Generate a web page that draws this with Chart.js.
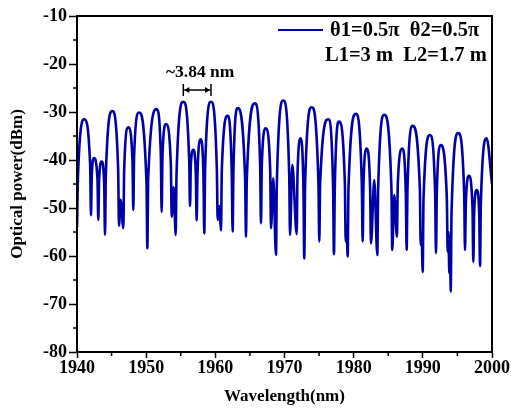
<!DOCTYPE html>
<html>
<head>
<meta charset="utf-8">
<script src="https://cdn.jsdelivr.net/npm/chart.js@4.4.1/dist/chart.umd.min.js"></script>
<style>
  html, body { margin: 0; padding: 0; background: #fff; }
  canvas { display: block; }
</style>
</head>
<body>
<canvas id="spectrum" width="511" height="411"></canvas>
<script>
// measured spectrum, wavelength in nm / power in dBm
var wavelength = [
  1940.00, 1940.15, 1941.06, 1941.90, 1942.02, 1942.14, 1942.46, 1942.96, 1943.08, 1943.20, 1943.57, 1943.93, 1944.05, 1944.17, 1945.10,
  1945.95, 1946.07, 1946.30, 1946.70, 1946.82, 1947.42, 1948.02, 1948.14, 1948.26, 1948.96,
  1950.05, 1950.17, 1950.29, 1951.52, 1952.12, 1952.24, 1952.36, 1952.87, 1953.57, 1953.69, 1953.98, 1954.27, 1954.39, 1955.37,
  1956.22, 1956.34, 1956.46, 1956.82, 1957.18, 1957.30, 1957.42, 1957.88, 1958.28, 1958.40, 1958.52, 1959.37,
  1960.22, 1960.34, 1960.58, 1960.82, 1960.94, 1961.78, 1962.38, 1962.50, 1962.62, 1963.23,
  1964.31, 1964.43, 1964.55, 1965.73, 1966.48, 1966.60, 1966.72, 1967.28, 1967.93, 1968.05, 1968.38, 1968.77, 1968.89, 1969.83,
  1970.68, 1970.80, 1971.13, 1971.76, 1971.88, 1972.34, 1972.74, 1972.86, 1972.98, 1973.93,
  1974.91, 1975.03, 1975.15, 1976.33, 1977.03, 1977.15, 1977.27, 1977.88, 1978.73, 1978.85, 1978.98, 1979.13, 1979.25, 1980.32,
  1981.18, 1981.30, 1981.42, 1981.88, 1982.38, 1982.50, 1982.98, 1983.42, 1983.54, 1984.43,
  1985.46, 1985.58, 1985.87, 1986.26, 1986.38, 1987.03, 1987.54, 1987.66, 1987.78, 1988.53,
  1989.57, 1989.69, 1989.82, 1989.98, 1990.10, 1991.03, 1991.78, 1991.90, 1992.02, 1992.58,
  1993.47, 1993.59, 1993.71, 1993.83, 1993.93, 1994.03, 1994.15, 1995.13,
  1995.98, 1996.10, 1996.22, 1996.67, 1997.18, 1997.30, 1997.42, 1997.79, 1998.15, 1998.27, 1998.39, 1999.23, 2000.00
]
var power = [
  -54, -43, -31.5, -41, -51.5, -43, -39.6, -44, -52.5, -44, -40.3, -45, -55.6, -43, -29.8,
  -42, -53.7, -48.3, -54.2, -42, -33.2, -40, -50.4, -39, -30.1,
  -45, -58.4, -44, -29.4, -39, -50.8, -39, -32.5, -41, -51.8, -45.7, -55.6, -43, -27.85,
  -40, -49.6, -41, -37.9, -43, -52.6, -43, -35.7, -43, -55.3, -42, -27.85,
  -42, -52.5, -49.6, -54.7, -42, -30.8, -43, -54.9, -42, -29.2,
  -44, -56, -44, -28.2, -41, -53.2, -41, -33.4, -42, -54.2, -43.8, -59.8, -45, -27.6,
  -43, -55.6, -41, -55.4, -43, -35.5, -46, -60.5, -45, -29,
  -45, -57, -45, -31.5, -46, -59.6, -46, -32, -45, -57, -53.5, -60.1, -46, -30.4,
  -45, -57, -45, -37.6, -46, -57.4, -44.2, -59.8, -46, -30.6,
  -46, -58.75, -47.3, -56, -45, -37.6, -47, -58.75, -46, -32.9,
  -46, -57.7, -55, -63.3, -48, -34.8, -47, -59.4, -47, -36.9,
  -48, -59.1, -55, -63.6, -56, -67.4, -51, -34.4,
  -47, -58.75, -49, -43.3, -50, -61.2, -51, -46.25, -51, -62.1, -49, -35.5, -45
]

var seriesLabel = 'θ1=0.5π  θ2=0.5π'
var legendLine2 = 'L1=3 m  L2=1.7 m'

// fringe spacing marker
var spacingFrom = 1955.37
var spacingTo = 1959.37
var spacingText = '~3.84 nm'

var serif = 'Liberation Serif, Times New Roman, serif'
var lineColor = '#0000a8'

var points = []
for (var i = 0; i < wavelength.length; i++) {
    points.push({ x: wavelength[i], y: power[i] })
}

var extras = {
    id: 'extras',
    afterDraw: function (chart) {
        var ctx = chart.ctx
        var a = chart.chartArea
        var xs = chart.scales.x, ys = chart.scales.y
        ctx.save()

        // box around plot
        ctx.strokeStyle = '#000'
        ctx.lineWidth = 2
        ctx.strokeRect(a.left, a.top, a.right - a.left, a.bottom - a.top)

        // minor ticks halfway between the major ones
        ctx.lineWidth = 1.5
        ctx.beginPath()
        var xt = xs.ticks, yt = ys.ticks
        for (var i = 0; i < xt.length - 1; i++) {
            var px = xs.getPixelForValue((xt[i].value + xt[i + 1].value) / 2)
            ctx.moveTo(px, a.bottom)
            ctx.lineTo(px, a.bottom + 4)
        }
        for (var j = 0; j < yt.length - 1; j++) {
            var py = ys.getPixelForValue((yt[j].value + yt[j + 1].value) / 2)
            ctx.moveTo(a.left, py)
            ctx.lineTo(a.left - 4, py)
        }
        ctx.stroke()

        // legend, top right
        var ds = chart.data.datasets[0]
        ctx.strokeStyle = ds.borderColor
        ctx.lineWidth = 2
        ctx.beginPath()
        ctx.moveTo(278, 30)
        ctx.lineTo(323, 30)
        ctx.stroke()
        ctx.fillStyle = '#000'
        ctx.font = 'bold 20.5px ' + serif
        ctx.textBaseline = 'middle'
        ctx.textAlign = 'left'
        ctx.fillText(ds.label, 330, 31)
        ctx.fillText(legendLine2, 325, 56)

        // spacing arrow |<->|
        var x1 = xs.getPixelForValue(spacingFrom)
        var x2 = xs.getPixelForValue(spacingTo)
        var ay = ys.getPixelForValue(-25.4)
        ctx.strokeStyle = '#000'
        ctx.lineWidth = 1.5
        ctx.beginPath()
        ctx.moveTo(x1, ay - 6); ctx.lineTo(x1, ay + 6)
        ctx.moveTo(x2, ay - 6); ctx.lineTo(x2, ay + 6)
        ctx.moveTo(x1 + 1, ay); ctx.lineTo(x2 - 1, ay)
        ctx.stroke()
        ctx.beginPath()
        ctx.moveTo(x1 + 1, ay); ctx.lineTo(x1 + 6, ay - 3); ctx.lineTo(x1 + 6, ay + 3); ctx.closePath()
        ctx.moveTo(x2 - 1, ay); ctx.lineTo(x2 - 6, ay - 3); ctx.lineTo(x2 - 6, ay + 3); ctx.closePath()
        ctx.fillStyle = '#000'
        ctx.fill()
        ctx.font = 'bold 17.5px ' + serif
        ctx.textAlign = 'center'
        ctx.fillText(spacingText, (x1 + x2) / 2 + 3, ys.getPixelForValue(-21.7))

        ctx.restore()
    }
}

var tickFont = { family: serif, weight: 'bold', size: 18 }
var titleFont = { family: serif, weight: 'bold', size: 17 }

var ctx = document.getElementById('spectrum').getContext('2d')
var chart = new Chart(ctx, {
    type: 'line',
    data: {
        datasets: [{
            label: seriesLabel,
            data: points,
            borderColor: lineColor,
            borderWidth: 2.6,
            pointRadius: 0,
            fill: false,
            cubicInterpolationMode: 'monotone'
        }]
    },
    options: {
        responsive: false,
        animation: false,
        devicePixelRatio: 1,
        layout: { padding: { top: 16, right: 19, left: 0, bottom: 0 } },
        plugins: {
            legend: { display: false },
            tooltip: { enabled: false }
        },
        scales: {
            x: {
                type: 'linear',
                min: 1940,
                max: 2000,
                afterFit: function (s) { s.height = 59 },
                ticks: {
                    stepSize: 10, color: '#000', font: tickFont, padding: 0, maxRotation: 0,
                    callback: function (v) { return String(v) }
                },
                grid: { drawOnChartArea: false, tickLength: 6, tickWidth: 1.5, tickColor: '#000' },
                border: { color: '#000', width: 2 },
                title: { display: true, text: 'Wavelength(nm)', color: '#000', font: titleFont, padding: { top: 0, bottom: 4 } }
            },
            y: {
                min: -80,
                max: -10,
                afterFit: function (s) { s.width = 77 },
                ticks: { stepSize: 10, color: '#000', font: tickFont, padding: 2 },
                grid: { drawOnChartArea: false, tickLength: 8, tickWidth: 1.5, tickColor: '#000' },
                border: { color: '#000', width: 2 },
                title: { display: true, text: 'Optical power(dBm)', color: '#000', font: titleFont, padding: { top: 7, bottom: 0 } }
            }
        }
    },
    plugins: [extras]
});
</script>
</body>
</html>
